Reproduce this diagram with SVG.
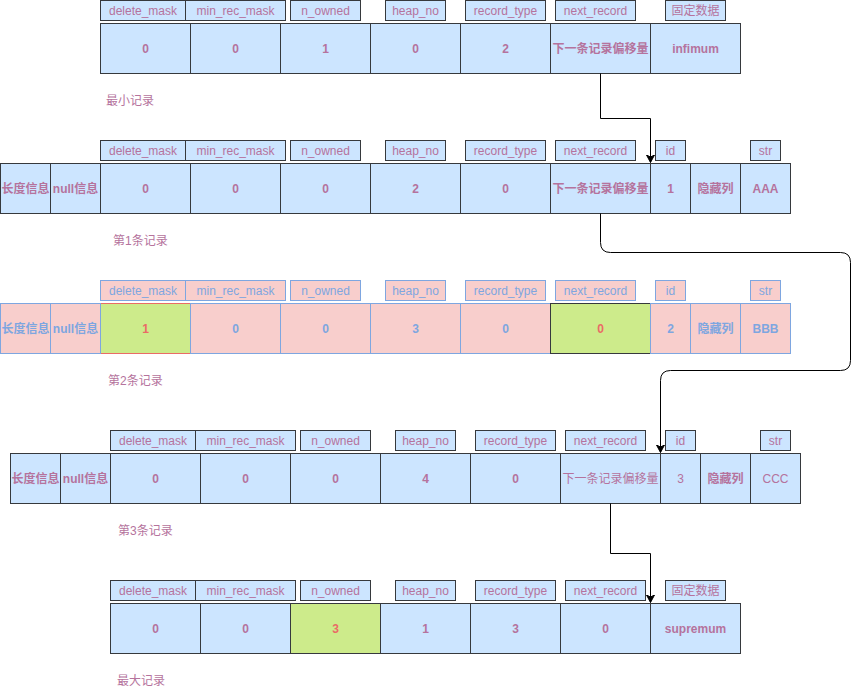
<svg xmlns="http://www.w3.org/2000/svg" width="859" height="691" viewBox="0 0 859 691">
<style>
.c{fill:#cce5ff;stroke:#36393d;stroke-width:1}
.p{fill:#f8cecc;stroke:#7ea6e0;stroke-width:1}
.g{fill:#cdeb8b;stroke:#ea6b66;stroke-width:1}
.g2{fill:#cdeb8b;stroke:#36393d;stroke-width:1}
text{font-family:"Liberation Sans","Noto Sans CJK SC",sans-serif;font-size:12px;fill:#b5739d;text-anchor:middle;dominant-baseline:central}
.b{font-weight:bold}
.bl{fill:#7ea6e0}
.rd{fill:#ea6b66}
.lbl{text-anchor:start}
.conn{fill:none;stroke:#000;stroke-width:1}
</style>
<defs>
<marker id="arr" markerWidth="9" markerHeight="9" refX="8" refY="4.5" orient="auto" markerUnits="userSpaceOnUse">
<path d="M0.5,0.5 L8,4.5 L0.5,8.5 L2.5,4.5 Z" fill="#000" stroke="#000" stroke-width="1"/>
</marker>
</defs>
<rect width="859" height="691" fill="#fff"/>

<!-- Record: 最小记录 -->
<g id="rec-min">
<g id="rec-min-h"><rect class="c" x="100.5" y="0.5" width="85" height="20"/><text x="143" y="10.5">delete_mask</text>
<rect class="c" x="185.5" y="0.5" width="100" height="20"/><text x="235.5" y="10.5">min_rec_mask</text>
<rect class="c" x="290.5" y="0.5" width="70" height="20"/><text x="325.5" y="10.5">n_owned</text>
<rect class="c" x="385.5" y="0.5" width="60" height="20"/><text x="415.5" y="10.5">heap_no</text>
<rect class="c" x="465.5" y="0.5" width="80" height="20"/><text x="505.5" y="10.5">record_type</text>
<rect class="c" x="555.5" y="0.5" width="80" height="20"/><text x="595.5" y="10.5">next_record</text>
<rect class="c" x="665.5" y="0.5" width="60" height="20"/><text x="695.5" y="10.5">固定数据</text></g>
<g id="rec-min-cells">
<rect class="c" x="100.5" y="23.5" width="90" height="50"/><text class="b" x="145.5" y="48.5">0</text>
<rect class="c" x="190.5" y="23.5" width="90" height="50"/><text class="b" x="235.5" y="48.5">0</text>
<rect class="c" x="280.5" y="23.5" width="90" height="50"/><text class="b" x="325.5" y="48.5">1</text>
<rect class="c" x="370.5" y="23.5" width="90" height="50"/><text class="b" x="415.5" y="48.5">0</text>
<rect class="c" x="460.5" y="23.5" width="90" height="50"/><text class="b" x="505.5" y="48.5">2</text>
<rect class="c" x="550.5" y="23.5" width="100" height="50"/><text class="b" x="600.5" y="48.5">下一条记录偏移量</text>
<rect class="c" x="650.5" y="23.5" width="90" height="50"/><text class="b" x="695.5" y="48.5">infimum</text></g>
<text class="lbl" x="106" y="100.5">最小记录</text>
</g>

<!-- Record 1 -->
<g id="rec-1">
<g id="rec-1-h"><rect class="c" x="100.5" y="140.5" width="85" height="20"/><text x="143" y="150.5">delete_mask</text>
<rect class="c" x="185.5" y="140.5" width="100" height="20"/><text x="235.5" y="150.5">min_rec_mask</text>
<rect class="c" x="290.5" y="140.5" width="70" height="20"/><text x="325.5" y="150.5">n_owned</text>
<rect class="c" x="385.5" y="140.5" width="60" height="20"/><text x="415.5" y="150.5">heap_no</text>
<rect class="c" x="465.5" y="140.5" width="80" height="20"/><text x="505.5" y="150.5">record_type</text>
<rect class="c" x="555.5" y="140.5" width="80" height="20"/><text x="595.5" y="150.5">next_record</text>
<rect class="c" x="655.5" y="140.5" width="30" height="20"/><text x="670.5" y="150.5">id</text>
<rect class="c" x="750.5" y="140.5" width="30" height="20"/><text x="765.5" y="150.5">str</text></g>
<g id="rec-1-cells">
<rect class="c" x="0.5" y="163.5" width="50" height="50"/><text class="b" x="25.5" y="188.5">长度信息</text>
<rect class="c" x="50.5" y="163.5" width="50" height="50"/><text class="b" x="75.5" y="188.5">null信息</text>
<rect class="c" x="100.5" y="163.5" width="90" height="50"/><text class="b" x="145.5" y="188.5">0</text>
<rect class="c" x="190.5" y="163.5" width="90" height="50"/><text class="b" x="235.5" y="188.5">0</text>
<rect class="c" x="280.5" y="163.5" width="90" height="50"/><text class="b" x="325.5" y="188.5">0</text>
<rect class="c" x="370.5" y="163.5" width="90" height="50"/><text class="b" x="415.5" y="188.5">2</text>
<rect class="c" x="460.5" y="163.5" width="90" height="50"/><text class="b" x="505.5" y="188.5">0</text>
<rect class="c" x="550.5" y="163.5" width="100" height="50"/><text class="b" x="600.5" y="188.5">下一条记录偏移量</text>
<rect class="c" x="650.5" y="163.5" width="40" height="50"/><text class="b" x="670.5" y="188.5">1</text>
<rect class="c" x="690.5" y="163.5" width="50" height="50"/><text class="b" x="715.5" y="188.5">隐藏列</text>
<rect class="c" x="740.5" y="163.5" width="50" height="50"/><text class="b" x="765.5" y="188.5">AAA</text></g>
<text class="lbl" x="113" y="240.5">第1条记录</text>
</g>

<!-- Record 2 -->
<g id="rec-2">
<g id="rec-2-h"><rect class="p" x="100.5" y="280.5" width="85" height="20"/><text class="bl" x="143" y="290.5">delete_mask</text>
<rect class="p" x="185.5" y="280.5" width="100" height="20"/><text class="bl" x="235.5" y="290.5">min_rec_mask</text>
<rect class="p" x="290.5" y="280.5" width="70" height="20"/><text class="bl" x="325.5" y="290.5">n_owned</text>
<rect class="p" x="385.5" y="280.5" width="60" height="20"/><text class="bl" x="415.5" y="290.5">heap_no</text>
<rect class="p" x="465.5" y="280.5" width="80" height="20"/><text class="bl" x="505.5" y="290.5">record_type</text>
<rect class="p" x="555.5" y="280.5" width="80" height="20"/><text class="bl" x="595.5" y="290.5">next_record</text>
<rect class="p" x="655.5" y="280.5" width="30" height="20"/><text class="bl" x="670.5" y="290.5">id</text>
<rect class="p" x="750.5" y="280.5" width="30" height="20"/><text class="bl" x="765.5" y="290.5">str</text></g>
<g id="rec-2-cells">
<rect class="g" x="100.5" y="303.5" width="90" height="50"/><text class="b rd" x="145.5" y="328.5">1</text>
<rect class="p" x="0.5" y="303.5" width="50" height="50"/><text class="b bl" x="25.5" y="328.5">长度信息</text>
<rect class="p" x="50.5" y="303.5" width="50" height="50"/><text class="b bl" x="75.5" y="328.5">null信息</text>
<rect class="p" x="190.5" y="303.5" width="90" height="50"/><text class="b bl" x="235.5" y="328.5">0</text>
<rect class="p" x="280.5" y="303.5" width="90" height="50"/><text class="b bl" x="325.5" y="328.5">0</text>
<rect class="p" x="370.5" y="303.5" width="90" height="50"/><text class="b bl" x="415.5" y="328.5">3</text>
<rect class="p" x="460.5" y="303.5" width="90" height="50"/><text class="b bl" x="505.5" y="328.5">0</text>
<rect class="g2" x="550.5" y="303.5" width="100" height="50"/><text class="b rd" x="600.5" y="328.5">0</text>
<rect class="p" x="650.5" y="303.5" width="40" height="50"/><text class="b bl" x="670.5" y="328.5">2</text>
<rect class="p" x="690.5" y="303.5" width="50" height="50"/><text class="b bl" x="715.5" y="328.5">隐藏列</text>
<rect class="p" x="740.5" y="303.5" width="50" height="50"/><text class="b bl" x="765.5" y="328.5">BBB</text></g>
<text class="lbl" x="108" y="381">第2条记录</text>
</g>

<!-- Record 3 -->
<g id="rec-3">
<g id="rec-3-h"><rect class="c" x="110.5" y="430.5" width="85" height="20"/><text x="153" y="440.5">delete_mask</text>
<rect class="c" x="195.5" y="430.5" width="100" height="20"/><text x="245.5" y="440.5">min_rec_mask</text>
<rect class="c" x="300.5" y="430.5" width="70" height="20"/><text x="335.5" y="440.5">n_owned</text>
<rect class="c" x="395.5" y="430.5" width="60" height="20"/><text x="425.5" y="440.5">heap_no</text>
<rect class="c" x="475.5" y="430.5" width="80" height="20"/><text x="515.5" y="440.5">record_type</text>
<rect class="c" x="565.5" y="430.5" width="80" height="20"/><text x="605.5" y="440.5">next_record</text>
<rect class="c" x="665.5" y="430.5" width="30" height="20"/><text x="680.5" y="440.5">id</text>
<rect class="c" x="760.5" y="430.5" width="30" height="20"/><text x="775.5" y="440.5">str</text></g>
<g id="rec-3-cells">
<rect class="c" x="10.5" y="453.5" width="50" height="50"/><text class="b" x="35.5" y="478.5">长度信息</text>
<rect class="c" x="60.5" y="453.5" width="50" height="50"/><text class="b" x="85.5" y="478.5">null信息</text>
<rect class="c" x="110.5" y="453.5" width="90" height="50"/><text class="b" x="155.5" y="478.5">0</text>
<rect class="c" x="200.5" y="453.5" width="90" height="50"/><text class="b" x="245.5" y="478.5">0</text>
<rect class="c" x="290.5" y="453.5" width="90" height="50"/><text class="b" x="335.5" y="478.5">0</text>
<rect class="c" x="380.5" y="453.5" width="90" height="50"/><text class="b" x="425.5" y="478.5">4</text>
<rect class="c" x="470.5" y="453.5" width="90" height="50"/><text class="b" x="515.5" y="478.5">0</text>
<rect class="c" x="560.5" y="453.5" width="100" height="50"/><text x="610.5" y="478.5">下一条记录偏移量</text>
<rect class="c" x="660.5" y="453.5" width="40" height="50"/><text x="680.5" y="478.5">3</text>
<rect class="c" x="700.5" y="453.5" width="50" height="50"/><text class="b" x="725.5" y="478.5">隐藏列</text>
<rect class="c" x="750.5" y="453.5" width="50" height="50"/><text x="775.5" y="478.5">CCC</text></g>
<text class="lbl" x="118" y="531">第3条记录</text>
</g>

<!-- Record: 最大记录 -->
<g id="rec-max">
<g id="rec-max-h"><rect class="c" x="110.5" y="580.5" width="85" height="20"/><text x="153" y="590.5">delete_mask</text>
<rect class="c" x="195.5" y="580.5" width="100" height="20"/><text x="245.5" y="590.5">min_rec_mask</text>
<rect class="c" x="300.5" y="580.5" width="70" height="20"/><text x="335.5" y="590.5">n_owned</text>
<rect class="c" x="395.5" y="580.5" width="60" height="20"/><text x="425.5" y="590.5">heap_no</text>
<rect class="c" x="475.5" y="580.5" width="80" height="20"/><text x="515.5" y="590.5">record_type</text>
<rect class="c" x="565.5" y="580.5" width="80" height="20"/><text x="605.5" y="590.5">next_record</text>
<rect class="c" x="665.5" y="580.5" width="60" height="20"/><text x="695.5" y="590.5">固定数据</text></g>
<g id="rec-max-cells">
<rect class="c" x="110.5" y="603.5" width="90" height="50"/><text class="b" x="155.5" y="628.5">0</text>
<rect class="c" x="200.5" y="603.5" width="90" height="50"/><text class="b" x="245.5" y="628.5">0</text>
<rect class="g2" x="290.5" y="603.5" width="90" height="50"/><text class="b rd" x="335.5" y="628.5">3</text>
<rect class="c" x="380.5" y="603.5" width="90" height="50"/><text class="b" x="425.5" y="628.5">1</text>
<rect class="c" x="470.5" y="603.5" width="90" height="50"/><text class="b" x="515.5" y="628.5">3</text>
<rect class="c" x="560.5" y="603.5" width="90" height="50"/><text class="b" x="605.5" y="628.5">0</text>
<rect class="c" x="650.5" y="603.5" width="90" height="50"/><text class="b" x="695.5" y="628.5">supremum</text></g>
<text class="lbl" x="117" y="681">最大记录</text>
</g>

<!-- Connectors -->
<g id="connectors">
<path class="conn" d="M600.5,73.5 V118.5 H650.5 V162.5" marker-end="url(#arr)"/>
<path class="conn" d="M600.5,213.5 V242.5 Q600.5,252.5 610.5,252.5 H840.5 Q850.5,252.5 850.5,262.5 V360.5 Q850.5,370.5 840.5,370.5 H670.5 Q660.5,370.5 660.5,380.5 V452.5" marker-end="url(#arr)"/>
<path class="conn" d="M610.5,503.5 V553.5 H650.5 V602.5" marker-end="url(#arr)"/>
</g>
</svg>
